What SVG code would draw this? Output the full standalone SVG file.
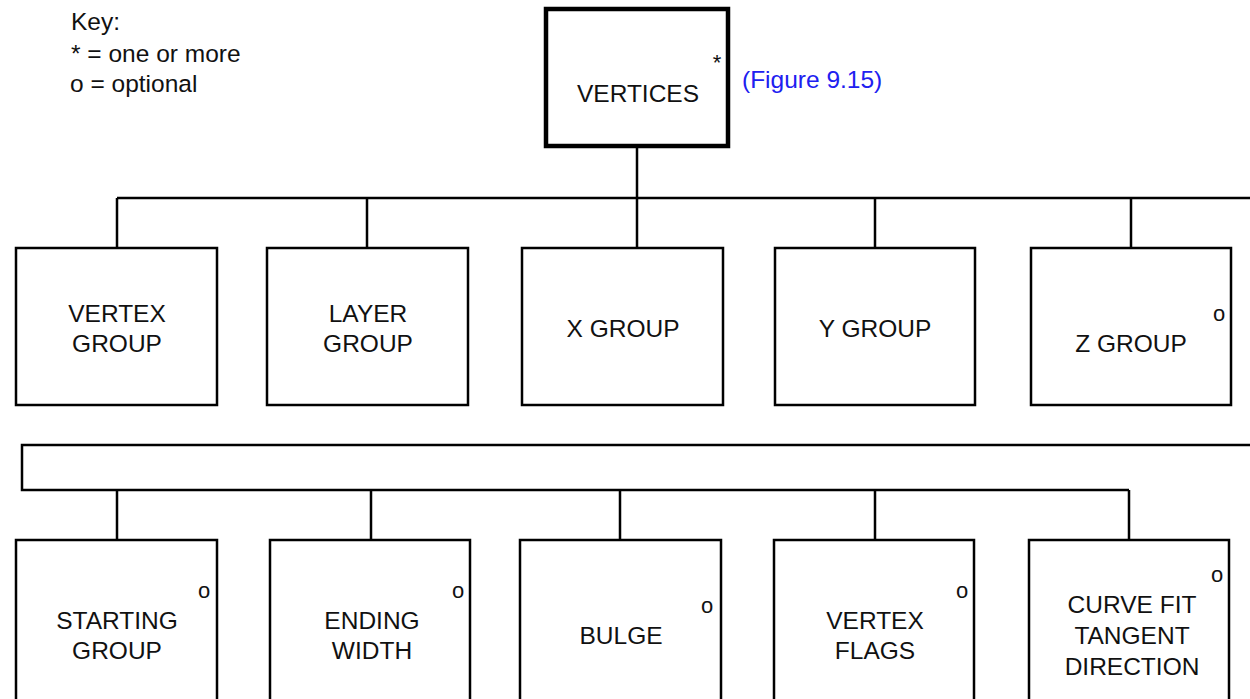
<svg xmlns="http://www.w3.org/2000/svg" width="1250" height="699" viewBox="0 0 1250 699">
<style>
.box{fill:#fff;stroke:#000;stroke-width:2.5}
.main{fill:#fff;stroke:#000;stroke-width:4.5}
.lbl{font-family:"Liberation Sans",Arial,sans-serif;font-size:24.5px;fill:#111;text-anchor:middle}
.key{font-family:"Liberation Sans",Arial,sans-serif;font-size:24.5px;fill:#111}
.mark{font-family:"Liberation Sans",Arial,sans-serif;font-size:22px;fill:#111;text-anchor:middle}
.conn{fill:none;stroke:#000;stroke-width:2.5}
</style>
<rect width="1250" height="699" fill="#fff"/>
<g id="key">
<text class="key" x="71" y="30">Key:</text>
<text class="key" x="71" y="62">* = one or more</text>
<text class="key" x="70" y="92">o = optional</text>
</g>
<g id="connectors">
<path class="conn" d="M637 147V198M117 198H1250M117 198V248M367 198V248M637 198V248M875 198V248M1131 198V248"/>
<path class="conn" d="M1250 445H22V490H1129M117 490V540M371 490V540M620 490V540M875 490V540M1129 490V540"/>
</g>
<g id="vertices">
<rect class="main" x="546" y="9" width="182" height="137"/>
<text class="lbl" x="638" y="102">VERTICES</text>
<text class="mark" x="717" y="70">*</text>
<text class="key" x="742" y="88" style="fill:#2020f0">(Figure 9.15)</text>
</g>
<g id="vertex-group">
<rect class="box" x="16" y="248" width="201" height="157"/>
<text class="lbl" x="117" y="322">VERTEX</text>
<text class="lbl" x="117" y="352">GROUP</text>
</g>
<g id="layer-group">
<rect class="box" x="267" y="248" width="201" height="157"/>
<text class="lbl" x="368" y="322">LAYER</text>
<text class="lbl" x="368" y="352">GROUP</text>
</g>
<g id="x-group">
<rect class="box" x="522" y="248" width="201" height="157"/>
<text class="lbl" x="623" y="337">X GROUP</text>
</g>
<g id="y-group">
<rect class="box" x="775" y="248" width="200" height="157"/>
<text class="lbl" x="875" y="337">Y GROUP</text>
</g>
<g id="z-group">
<rect class="box" x="1031" y="248" width="200" height="157"/>
<text class="lbl" x="1131" y="352">Z GROUP</text>
<text class="mark" x="1219" y="321">o</text>
</g>
<g id="starting-group">
<rect class="box" x="16" y="540" width="201" height="165"/>
<text class="lbl" x="117" y="629">STARTING</text>
<text class="lbl" x="117" y="659">GROUP</text>
<text class="mark" x="204" y="598">o</text>
</g>
<g id="ending-width">
<rect class="box" x="270" y="540" width="200" height="165"/>
<text class="lbl" x="372" y="629">ENDING</text>
<text class="lbl" x="372" y="659">WIDTH</text>
<text class="mark" x="458" y="598">o</text>
</g>
<g id="bulge">
<rect class="box" x="520" y="540" width="201" height="165"/>
<text class="lbl" x="621" y="644">BULGE</text>
<text class="mark" x="707" y="613">o</text>
</g>
<g id="vertex-flags">
<rect class="box" x="774" y="540" width="200" height="165"/>
<text class="lbl" x="875" y="629">VERTEX</text>
<text class="lbl" x="875" y="659">FLAGS</text>
<text class="mark" x="962" y="598">o</text>
</g>
<g id="curve-fit">
<rect class="box" x="1029" y="540" width="200" height="165"/>
<text class="lbl" x="1132" y="613">CURVE FIT</text>
<text class="lbl" x="1132" y="644">TANGENT</text>
<text class="lbl" x="1132" y="675">DIRECTION</text>
<text class="mark" x="1217" y="582">o</text>
</g>
</svg>
